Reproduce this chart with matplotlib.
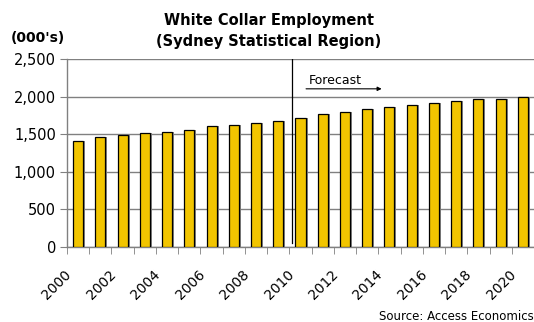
import matplotlib
matplotlib.use("Agg")
import matplotlib.pyplot as plt
import matplotlib.transforms as mtransforms
import numpy as np

years = list(range(2000, 2021))
employment = [1409, 1459, 1485, 1512, 1525, 1560, 1605, 1619, 1645, 1676,
              1714, 1765, 1800, 1832, 1859, 1885, 1912, 1939, 1965, 1973, 2000]
yticks = [0, 500, 1000, 1500, 2000, 2500]
title = "White Collar Employment\n(Sydney Statistical Region)"

plt.rcParams['font.family'] = ['DejaVu Sans']

fig = plt.figure(figsize=(5.34, 3.22), dpi=100)
ax = fig.add_axes([67/534, 1 - 246.7/322, (534 - 67)/534, (246.7 - 59.2)/322])

x = np.arange(len(years))
w = 0.45
# shadow
ax.bar(x + 0.09, employment, width=w, color='#858585', edgecolor='none', zorder=2)
ax.bar(x, employment, width=w, color='#F2C500', edgecolor='black', linewidth=0.9, zorder=3)

ax.set_xlim(-0.5, len(years) - 0.5)
ax.set_ylim(0, 2500)
ax.set_yticks(yticks)
ax.set_yticklabels([f"{v:,}" for v in yticks], fontsize=10.5)
ax.yaxis.grid(True, color='#808080', linewidth=1.0, zorder=0)
ax.set_axisbelow(True)

for s in ['top', 'right']:
    ax.spines[s].set_visible(False)
ax.spines['left'].set_color('#808080')
ax.spines['bottom'].set_color('#808080')
ax.spines['left'].set_linewidth(1.0)
ax.spines['bottom'].set_linewidth(1.0)
ax.tick_params(axis='y', length=5, color='#808080', pad=3)

# category boundaries ticks
ax.set_xticks(np.arange(-0.5, len(years), 1.0), minor=True)
ax.tick_params(axis='x', which='minor', length=5, color='#808080')
ax.set_xticks(x[::2])
ax.set_xticklabels([str(y) for y in years[::2]], rotation=45, ha='right', va='top',
                   fontsize=10)
ax.tick_params(axis='x', which='major', length=0, pad=15)
off = mtransforms.ScaledTranslation(-4/100, 0, fig.dpi_scale_trans)
for lab in ax.get_xticklabels():
    lab.set_transform(lab.get_transform() + off)

# forecast divider
ax.axvline(9.62, ymin=0.02, ymax=1.0, color='black', linewidth=0.9, zorder=4)
ax.text(10.38, 2215, "Forecast", fontsize=9, ha='left', va='center')
ax.annotate("", xy=(13.65, 2105), xytext=(10.25, 2105),
            arrowprops=dict(arrowstyle='-|>', color='black', lw=0.8,
                            mutation_scale=6, shrinkA=0, shrinkB=0))

fig.text(269/534, 1 - 31/322, title, ha='center', va='center',
         fontsize=10.5, fontweight='bold', linespacing=1.45)
fig.text(11/534, 1 - 38/322, "(000's)", ha='left', va='center',
         fontsize=10, fontweight='bold')
fig.text(534/534, 1 - 317/322, "Source: Access Economics", ha='right', va='center',
         fontsize=8.5)

fig.savefig("out.png", dpi=100)
